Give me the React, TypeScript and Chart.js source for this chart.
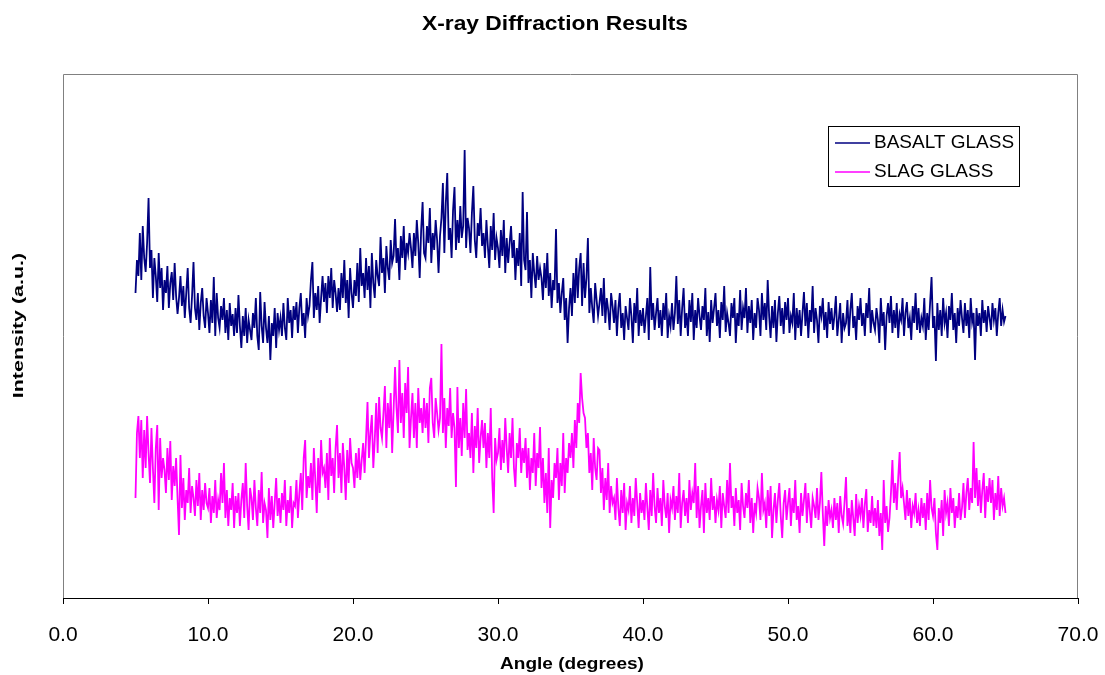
import { useEffect, useRef } from "react";
import { Chart, registerables } from "chart.js";

Chart.register(...registerables);

// Scan definition (degrees 2-theta)
const ANGLE_START = 5.0;
const ANGLE_STEP = 0.1;

// X axis tick values
const X_TICKS = [0, 10, 20, 30, 40, 50, 60, 70];

// Series labels
const SERIES_LABELS = ["BASALT GLASS", "SLAG GLASS"];

// Intensity (arbitrary units), one row per degree, 5.0 .. 65.0
const BASALT = [
  305, 338, 322, 365, 318, 372, 340, 326, 355, 400,
  330, 348, 300, 340, 322, 296, 345, 310, 330, 288,
  318, 305, 332, 290, 315, 326, 298, 335, 302, 284,
  300, 322, 292, 312, 280, 305, 330, 290, 275, 302,
  336, 290, 278, 305, 268, 295, 310, 282, 270, 300,
  285, 265, 298, 275, 321, 262, 305, 280, 270, 292,
  278, 300, 265, 288, 258, 295, 272, 284, 262, 290,
  265, 303, 272, 250, 282, 262, 290, 255, 278, 268,
  258, 285, 270, 300, 262, 248, 306, 272, 255, 296,
  270, 255, 282, 238, 275, 262, 290, 250, 285, 268,
  280, 262, 295, 270, 258, 300, 275, 288, 260, 292,
  278, 296, 265, 290, 305, 272, 285, 260, 300, 282,
  292, 318, 336, 280, 305, 288, 312, 275, 300, 322,
  296, 315, 285, 322, 300, 330, 290, 318, 305, 286,
  310, 288, 325, 300, 338, 295, 318, 280, 330, 305,
  290, 318, 302, 335, 296, 350, 312, 325, 300, 340,
  308, 332, 290, 345, 315, 300, 338, 322, 312, 361,
  325, 340, 305, 352, 330, 318, 358, 335, 342, 379,
  335, 350, 318, 362, 340, 372, 328, 355, 345, 365,
  350, 330, 365, 342, 378, 355, 320, 368, 396, 345,
  340, 372, 355, 390, 335, 365, 348, 378, 358, 325,
  362, 380, 415, 345, 395, 425, 358, 370, 340, 388,
  411, 348, 378, 355, 392, 360, 372, 448, 350, 380,
  370, 345, 385, 412, 358, 340, 375, 362, 390, 352,
  365, 340, 378, 352, 330, 372, 348, 385, 338, 360,
  350, 330, 368, 342, 378, 325, 360, 335, 355, 372,
  340, 358, 318, 350, 332, 365, 312, 406, 338, 328,
  386, 315, 338, 300, 345, 325, 310, 342, 318, 330,
  320, 298, 335, 310, 345, 302, 325, 290, 318, 308,
  369, 295, 315, 285, 305, 320, 278, 300, 255, 290,
  310, 282, 325, 295, 340, 300, 330, 345, 292, 335,
  300, 320, 360, 285, 310, 290, 275, 315, 298, 282,
  295, 310, 282, 320, 275, 300, 288, 268, 305, 292,
  275, 298, 262, 290, 305, 270, 285, 258, 292, 280,
  268, 300, 282, 255, 295, 275, 310, 262, 288, 272,
  290, 265, 282, 300, 258, 331, 278, 295, 268, 285,
  300, 270, 288, 262, 295, 278, 305, 260, 282, 272,
  295, 268, 285, 322, 274, 298, 262, 290, 310, 270,
  285, 262, 298, 276, 305, 258, 288, 270, 300, 282,
  268, 292, 278, 310, 262, 286, 256, 298, 275, 290,
  305, 272, 288, 260, 296, 278, 312, 266, 285, 275,
  262, 295, 280, 300, 255, 285, 272, 308, 268, 290,
  280, 310, 265, 292, 275, 298, 258, 285, 270, 300,
  288, 262, 305, 278, 295, 268, 318, 282, 260, 292,
  270, 298, 256, 285, 302, 272, 290, 264, 296, 278,
  300, 265, 282, 275, 305, 258, 290, 270, 288, 262,
  285, 306, 272, 295, 260, 288, 276, 312, 265, 290,
  278, 255, 292, 282, 300, 268, 286, 260, 296, 274,
  290, 268, 282, 302, 262, 278, 295, 255, 285, 270,
  275, 298, 262, 288, 305, 270, 282, 258, 292, 278,
  300, 272, 285, 262, 295, 280, 310, 265, 288, 275,
  268, 290, 278, 255, 300, 272, 286, 248, 282, 295,
  275, 302, 265, 288, 270, 295, 260, 284, 278, 300,
  262, 285, 296, 270, 280, 258, 292, 275, 305, 268,
  290, 265, 280, 272, 300, 258, 285, 268, 295, 321,
  270, 282, 237, 295, 268, 288, 262, 300, 275, 285,
  260, 292, 278, 305, 268, 285, 255, 290, 272, 298,
  280, 265, 295, 272, 288, 260, 300, 276, 285, 238,
  290, 272, 285, 262, 298, 275, 288, 266, 292, 280,
  268, 295, 278, 290, 262, 285, 300, 272, 288, 276,
  282,
];

const SLAG = [
  100, 165, 182, 140, 178, 120, 168, 130, 182, 145,
  115, 170, 130, 95, 150, 173, 88, 160, 120, 140,
  128, 105, 150, 118, 157, 98, 132, 112, 140, 100,
  63, 143, 90, 120, 78, 108, 95, 130, 85, 112,
  100, 82, 118, 92, 125, 78, 108, 88, 115, 95,
  90, 110, 75, 102, 85, 118, 80, 98, 88, 125,
  95, 135, 80, 108, 72, 100, 88, 115, 70, 102,
  85, 105, 72, 98, 115, 80, 135, 92, 68, 110,
  100, 78, 118, 90, 72, 108, 85, 126, 75, 95,
  88, 60, 110, 78, 102, 70, 95, 120, 82, 100,
  75, 105, 88, 118, 72, 98, 85, 112, 70, 95,
  92, 118, 80, 105, 125, 88, 140, 158, 100, 122,
  110, 135, 98, 150, 118, 85, 140, 105, 158, 125,
  130, 110, 145, 98, 160, 122, 140, 105, 150, 173,
  120, 145, 105, 155, 130, 98, 148, 115, 160, 135,
  130, 110, 145, 120, 150, 118, 138, 155, 125, 160,
  196, 140, 165, 183, 130, 158, 195, 145, 201, 170,
  160, 185, 212, 150, 195, 170, 205, 145, 188, 231,
  190, 165, 238, 175, 205, 160, 215, 185, 231, 150,
  180, 205, 160, 195, 150, 210, 175, 190, 165, 200,
  170, 195, 155, 210, 220, 175, 160, 200, 185, 168,
  180, 254, 165, 200, 150, 190, 172, 210, 160, 185,
  170, 111, 211, 150, 180, 142, 195, 160, 209, 148,
  165, 140, 185, 125, 172, 150, 190, 135, 160, 178,
  150, 175, 130, 165, 140, 190, 120, 85, 160, 138,
  145, 170, 128, 158, 135, 180, 150, 125, 165, 140,
  180, 130, 111, 155, 140, 170, 125, 150, 135, 160,
  120, 150, 108, 140, 125, 165, 112, 145, 130, 171,
  110, 140, 95, 125, 85, 150, 70, 118, 100, 135,
  120, 150, 98, 135, 112, 165, 105, 140, 125, 155,
  140, 165, 130, 178, 150, 195, 175, 225, 200, 185,
  180, 150, 165, 125, 145, 108, 160, 130, 118, 150,
  148, 105, 130, 88, 120, 98, 135, 85, 112, 95,
  100, 78, 120, 90, 72, 108, 85, 115, 68, 95,
  88, 112, 75, 100, 82, 120, 95, 70, 105, 85,
  98, 78, 115, 90, 68, 108, 82, 125, 92, 75,
  110, 85, 100, 72, 118, 92, 80, 105, 65, 98,
  90, 112, 78, 102, 85, 125, 70, 95, 108, 82,
  100, 75, 118, 88, 105, 95, 135, 80, 112, 70,
  92, 108, 65, 115, 85, 100, 78, 120, 88, 102,
  75, 98, 88, 112, 70, 105, 92, 80, 118, 85,
  135, 90, 102, 72, 110, 85, 98, 68, 115, 92,
  80, 105, 90, 118, 75, 100, 65, 95, 85, 110,
  100, 78, 125, 88, 95, 70, 108, 82, 112, 60,
  88, 105, 75, 98, 115, 82, 60, 95, 108, 78,
  95, 110, 72, 100, 85, 118, 78, 92, 65, 105,
  82, 98, 115, 75, 105, 88, 70, 100, 92, 80,
  110, 78, 95, 126, 85, 52, 92, 72, 98, 80,
  88, 70, 100, 78, 95, 65, 102, 82, 74, 96,
  121, 72, 90, 65, 98, 80, 62, 104, 75, 92,
  82, 100, 70, 94, 109, 66, 88, 75, 102, 72,
  90, 70, 98, 62, 85, 48, 118, 75, 92, 66,
  80, 105, 138, 95, 115, 88, 120, 146, 100, 110,
  95, 78, 108, 82, 100, 70, 92, 85, 105, 75,
  88, 72, 100, 80, 95, 68, 105, 78, 118, 90,
  82, 100, 65, 48, 90, 75, 98, 62, 108, 85,
  95, 72, 110, 85, 100, 70, 92, 80, 105, 78,
  90, 115, 80, 105, 120, 88, 110, 95, 156, 100,
  130, 92, 118, 85, 108, 125, 80, 112, 96, 120,
  95, 118, 78, 105, 88, 122, 82, 110, 92, 100,
  85,
];

const COLORS = ["#000080", "#FF00FF"];
const FONT = '"Liberation Sans", Arial, Helvetica, sans-serif';

function toPoints(values: number[]) {
  return values.map((v, i) => ({
    x: Math.round((ANGLE_START + i * ANGLE_STEP) * 10) / 10,
    y: v,
  }));
}

function drawStretchedText(
  ctx: CanvasRenderingContext2D,
  text: string,
  x: number,
  y: number,
  font: string,
  sx: number,
  rot = 0
) {
  ctx.save();
  ctx.translate(x, y);
  if (rot) ctx.rotate(rot);
  ctx.scale(sx, 1);
  ctx.font = font;
  ctx.textAlign = "center";
  ctx.textBaseline = "middle";
  ctx.fillStyle = "#000";
  ctx.fillText(text, 0, 0);
  ctx.restore();
}

const decorPlugin = {
  id: "decor",
  beforeDatasetsDraw(chart: any) {
    const { ctx, chartArea } = chart;
    ctx.save();
    ctx.strokeStyle = "#808080";
    ctx.lineWidth = 1;
    ctx.beginPath();
    ctx.moveTo(chartArea.left + 0.5, chartArea.bottom);
    ctx.lineTo(chartArea.left + 0.5, chartArea.top + 0.5);
    ctx.lineTo(chartArea.right - 0.5, chartArea.top + 0.5);
    ctx.lineTo(chartArea.right - 0.5, chartArea.bottom);
    ctx.stroke();
    ctx.restore();
  },
  afterDraw(chart: any) {
    const ctx: CanvasRenderingContext2D = chart.ctx;
    // Titles
    drawStretchedText(ctx, "X-ray Diffraction Results", 555, 24, `bold 20px ${FONT}`, 1.14);
    drawStretchedText(ctx, "Angle (degrees)", 572, 664, `bold 17px ${FONT}`, 1.12);
    drawStretchedText(ctx, "Intensity (a.u.)", 19, 325.5, `bold 15px ${FONT}`, 1.43, -Math.PI / 2);
    // Legend box
    ctx.save();
    ctx.fillStyle = "#fff";
    ctx.fillRect(828.5, 126.5, 191, 60);
    ctx.strokeStyle = "#000";
    ctx.lineWidth = 1;
    ctx.strokeRect(828.5, 126.5, 191, 60);
    const rows = [143, 172];
    SERIES_LABELS.forEach((label, i) => {
      ctx.strokeStyle = COLORS[i];
      ctx.lineWidth = 1.5;
      ctx.beginPath();
      ctx.moveTo(835, rows[i]);
      ctx.lineTo(870, rows[i]);
      ctx.stroke();
      ctx.font = `19px ${FONT}`;
      ctx.fillStyle = "#000";
      ctx.textAlign = "left";
      ctx.textBaseline = "middle";
      ctx.fillText(label, 874, rows[i]);
    });
    ctx.restore();
  },
};

export default function App() {
  const ref = useRef<HTMLCanvasElement | null>(null);

  useEffect(() => {
    if (!ref.current) return;
    const chart = new Chart(ref.current, {
      type: "line",
      data: {
        datasets: [
          {
            label: SERIES_LABELS[0],
            data: toPoints(BASALT),
            borderColor: COLORS[0],
            borderWidth: 1.8,
            pointRadius: 0,
            tension: 0,
            fill: false,
          },
          {
            label: SERIES_LABELS[1],
            data: toPoints(SLAG),
            borderColor: COLORS[1],
            borderWidth: 1.8,
            pointRadius: 0,
            tension: 0,
            fill: false,
          },
        ],
      },
      options: {
        responsive: false,
        animation: false,
        devicePixelRatio: 1,
        layout: { padding: { left: 63, top: 74, right: 27, bottom: 0 } },
        plugins: {
          legend: { display: false },
          title: { display: false },
          tooltip: { enabled: false },
        },
        scales: {
          x: {
            type: "linear",
            min: X_TICKS[0],
            max: X_TICKS[X_TICKS.length - 1],
            afterBuildTicks: (scale: any) => {
              scale.ticks = X_TICKS.map((v) => ({ value: v }));
            },
            afterFit: (scale: any) => {
              scale.height = 77;
              scale.paddingLeft = 0;
              scale.paddingRight = 0;
            },
            ticks: {
              callback: (v: any) => Number(v).toFixed(1),
              font: { family: FONT, size: 21 },
              color: "#000",
              padding: 19,
              maxRotation: 0,
              autoSkip: false,
            },
            grid: {
              drawOnChartArea: false,
              drawTicks: true,
              tickLength: 6,
              color: "#000",
            },
            border: { display: true, color: "#000", width: 1 },
          },
          y: {
            display: false,
            min: 0,
            max: 524,
          },
        },
      },
      plugins: [decorPlugin],
    });
    return () => chart.destroy();
  }, []);

  return (
    <div style={{ position: "absolute", left: 0, top: 0, width: 1105, height: 675, background: "#fff" }}>
      <canvas ref={ref} width={1105} height={675} />
    </div>
  );
}
